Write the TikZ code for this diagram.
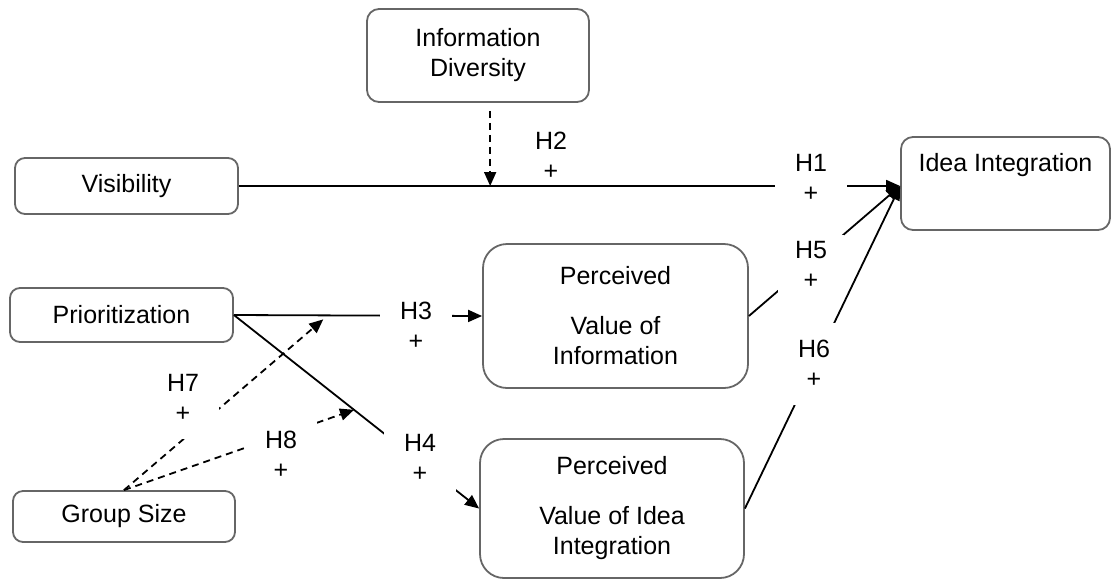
\documentclass[tikz,border=0pt]{standalone}
\usepackage{fontspec}
\setmainfont{Liberation Sans}
\usetikzlibrary{arrows.meta, calc}

\begin{document}
\begin{tikzpicture}[x=0.5pt, y=-0.5pt, >={Triangle[length=7pt, width=6pt]},
    box/.style={draw=black!60, line width=0.9pt, rounded corners=5pt, align=center,
        inner sep=0pt, font=\fontsize{12.5}{15}\selectfont},
    conn/.style={line width=0.9pt, ->},
    modarrow/.style={line width=0.9pt, dash pattern=on 3.5pt off 2.5pt, ->},
    hyp/.style={fill=white, align=center, inner sep=0pt, minimum width=36pt,
        minimum height=41pt, font=\fontsize{12.5}{15}\selectfont}]
    \useasboundingbox (0,0) rectangle (1112,580);

    % Constructs
    \node[box, minimum width=111pt, minimum height=46.5pt, rounded corners=6pt] (infodiv) at (478,55.5) {Information\\Diversity};
    \node[box, minimum width=111.5pt, minimum height=28pt] (vis) at (126.5,186) {Visibility};
    \node[draw=black!60, line width=0.9pt, rounded corners=6pt, inner sep=0pt, font=\fontsize{12.5}{15}\selectfont,
        minimum width=104.5pt, minimum height=46.5pt, text depth=21pt] (ii) at (1005.5,183.5) {Idea Integration};
    \node[box, minimum width=111.5pt, minimum height=27pt] (prio) at (121.5,315) {Prioritization};
    \node[box, minimum width=132.5pt, minimum height=72pt, rounded corners=12pt] (pvi) at (615.5,316) {Perceived\\[10pt]Value of\\Information};
    \node[box, minimum width=132pt, minimum height=69.5pt, rounded corners=12pt] (pvii) at (612,508.5) {Perceived\\[10pt]Value of Idea\\Integration};
    \node[box, minimum width=111pt, minimum height=25.5pt] (gs) at (124,516.5) {Group Size};

    % Points where the arrows meet
    \coordinate (iin) at (ii.west |- vis.east);
    \coordinate (h2) at ($(vis.east)!0.38!(iin)$);
    \coordinate (h7) at ($(prio.east)!0.36!(pvi.west)$);
    \coordinate (h8) at ($(prio.east)!0.49!(pvii.west)$);

    % Direct effects
    \draw[conn] (vis.east) -- (iin);
    \draw[conn] (pvi.east) -- (iin);
    \draw[conn] (pvii.east) -- (iin);
    \draw[conn] (prio.east) -- (pvi.west);
    \draw[conn] (prio.east) -- (pvii.west);

    % Moderating effects
    \draw[modarrow] ([yshift=-4pt]infodiv.south -| h2) -- (h2);
    \draw[modarrow] (gs.north) -- ([yshift=-2pt]h7);
    \draw[modarrow] (gs.north) -- (h8);

    % Hypotheses
    \node[hyp] (lab1) at (811,178) {H1\\+};
    \node[hyp, fill=none] (lab2) at (551,156) {H2\\+};
    \node[hyp] (lab3) at (416,326) {H3\\+};
    \node[hyp] (lab4) at (420,458) {H4\\+};
    \node[hyp, minimum width=33pt, minimum height=30pt] (lab5) at (811,265) {H5\\+};
    \node[hyp] (lab6) at (814,364) {H6\\+};
    \node[hyp] (lab7) at (183,398) {H7\\+};
    \node[hyp] (lab8) at (281,455) {H8\\+};
\end{tikzpicture}
\end{document}
